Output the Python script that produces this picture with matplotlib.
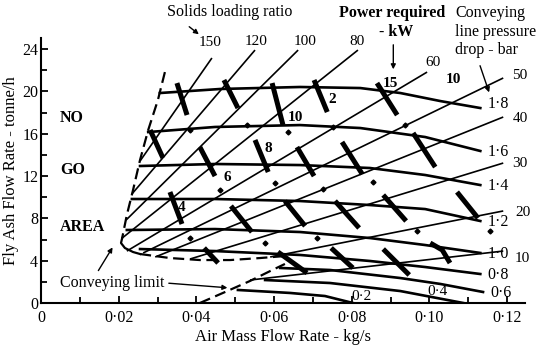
import matplotlib
matplotlib.use("Agg")
import matplotlib.pyplot as plt
from matplotlib.ticker import MultipleLocator, FuncFormatter

plt.rcParams["font.family"] = ["Liberation Serif", "DejaVu Serif"]

# solids loading ratio lines, start and end (air kg/s, fly ash t/h)
ratio_labels = ["150", "120", "100", "80", "60", "50", "40", "30", "20", "10"]
ratio_x0 = [0.0255, 0.0234, 0.0219, 0.0209, 0.0221, 0.0263, 0.0294, 0.0384, 0.0590, 0.0538]
ratio_y0 = [13.42, 10.30, 7.84, 6.14, 4.91, 4.73, 4.35, 4.16, 4.35, 2.17]
ratio_x1 = [0.0440, 0.0551, 0.0662, 0.0816, 0.0994, 0.1190, 0.1190, 0.1190, 0.1190, 0.1190]
ratio_y1 = [23.16, 23.91, 23.91, 23.91, 21.83, 21.27, 17.58, 13.23, 8.70, 4.91]

# conveying line pressure drop curves (bar)
pressure_labels = ["1·8", "1·6", "1·4", "1·2", "1·0", "0·8", "0·6", "0·4", "0·2"]
pressure_x = [
    [0.0306, 0.0461, 0.0667, 0.0822, 0.0925, 0.1028, 0.1131],
    [0.0276, 0.0448, 0.0667, 0.0822, 0.0989, 0.1131],
    [0.0255, 0.0448, 0.0667, 0.0847, 0.0989, 0.1131],
    [0.0234, 0.0448, 0.0667, 0.0847, 0.0989, 0.1131],
    [0.0221, 0.0448, 0.0667, 0.0847, 0.0989, 0.1131],
    [0.0255, 0.0448, 0.0667, 0.0847, 0.0989, 0.1131],
    [0.0616, 0.0744, 0.0925, 0.1028, 0.1138],
    [0.0577, 0.0744, 0.0925, 0.1087],
    [0.0507, 0.0641, 0.0731, 0.0803],
]
pressure_y = [
    [19.85, 20.23, 20.42, 20.32, 19.85, 19.09, 18.43],
    [16.16, 16.64, 16.82, 16.54, 15.69, 14.37],
    [12.95, 13.14, 13.04, 12.76, 12.10, 11.15],
    [9.83, 9.83, 9.64, 9.26, 8.88, 7.75],
    [6.90, 6.99, 6.71, 6.14, 5.48, 4.73],
    [5.10, 4.91, 4.54, 3.97, 3.40, 2.74],
    [3.31, 3.12, 2.36, 1.80, 1.04],
    [2.17, 1.89, 1.13, 0.0],
    [1.23, 0.95, 0.66, 0.0],
]
# label for 0.4 and 0.2 sit above the curve, inside the plot
low_label_x = [0.1022, 0.0824]
low_label_y = [1.13, 0.57]

# power required (kW) contour dashes
power_x = [
    [0.0350, 0.0376], [0.0471, 0.0507], [0.0595, 0.0623], [0.0703, 0.0737],
    [0.0865, 0.0917], [0.0281, 0.0314], [0.0409, 0.0448], [0.0551, 0.0585],
    [0.0659, 0.0703], [0.0775, 0.0827], [0.0958, 0.1015], [0.0332, 0.0363],
    [0.0489, 0.0543], [0.0628, 0.0680], [0.0757, 0.0819], [0.0881, 0.0940],
    [0.1071, 0.1125], [0.0420, 0.0456], [0.0610, 0.0685], [0.0747, 0.0803],
    [0.0881, 0.0948], [0.1002, 0.1033, 0.1053],
]
power_y = [
    [20.79, 17.77], [21.08, 18.43], [20.79, 16.82], [21.08, 18.05],
    [20.79, 17.77], [16.35, 13.71], [14.74, 12.00], [15.41, 12.38],
    [14.74, 12.00], [15.22, 12.19], [16.07, 12.85], [10.49, 7.47],
    [9.17, 6.71], [9.64, 7.28], [9.64, 7.09], [10.21, 7.75],
    [10.49, 8.03], [5.20, 3.78], [4.82, 2.84], [5.20, 3.31],
    [5.10, 2.65], [5.67, 5.01, 3.78],
]
power_labels = ["4", "6", "8", "10", "2", "15", "10"]
power_label_x = [0.0363, 0.0479, 0.0585, 0.0654, 0.0749, 0.0899, 0.1061]
power_label_y = [9.07, 11.91, 14.65, 17.49, 19.19, 20.79, 21.17]

dot_x = [0.0384, 0.0531, 0.0636, 0.0752, 0.0937, 0.0461, 0.0603, 0.0726, 0.0855,
         0.0384, 0.0577, 0.0711, 0.0968, 0.1156]
dot_y = [16.35, 16.82, 16.16, 16.64, 16.82, 10.68, 11.34, 10.78, 11.44,
         6.14, 5.67, 6.14, 6.81, 6.81]

# conveying limit
limit_left_x = [0.0319, 0.0301, 0.0276, 0.0255, 0.0237, 0.0221, 0.0209]
limit_left_y = [21.83, 19.19, 16.35, 13.52, 10.68, 8.32, 6.14]
nose_x = [0.0209, 0.0206, 0.0216, 0.0237, 0.0255]
nose_y = [6.14, 5.67, 5.20, 4.82, 4.63]
limit_bottom_x = [0.0255, 0.0332, 0.0409, 0.0487, 0.0564, 0.0628]
limit_bottom_y = [4.63, 4.25, 4.06, 4.06, 4.25, 4.44]
limit_low_x = [0.0409, 0.0474, 0.0538, 0.0590, 0.0628]
limit_low_y = [0.0, 1.04, 2.08, 3.02, 3.69]

fig = plt.figure(figsize=(5.4, 3.5), dpi=100)
ax = fig.add_axes([0.0759, 0.1343, 0.8963, 0.7571])

dash = (0, (5, 2.5))
ax.plot(limit_left_x, limit_left_y, color="black", lw=1.6, linestyle=dash)
ax.plot(nose_x, nose_y, color="black", lw=1.6)
ax.plot(limit_bottom_x, limit_bottom_y, color="black", lw=1.6, linestyle=dash)
ax.plot(limit_low_x, limit_low_y, color="black", lw=1.6, linestyle=dash)

ratio_offsets = [(-1, 11), (1, 6), (5, 6), (-1, 6), (4, 7), (12, 2), (12, -1), (12, 0), (14, -1), (14, -5)]
for lab, x0, y0, x1, y1, off in zip(ratio_labels, ratio_x0, ratio_y0, ratio_x1, ratio_y1, ratio_offsets):
    ax.plot([x0, x1], [y0, y1], color="black", lw=1.2, solid_capstyle="butt")
    ax.annotate(lab, (x1, y1), xytext=off, textcoords="offset points",
                ha="center", va="center", fontsize=11, annotation_clip=False)

for i, (lab, xs, ys) in enumerate(zip(pressure_labels, pressure_x, pressure_y)):
    ax.plot(xs, ys, color="black", lw=1.9)
    if i < 7:
        dy = 3 if i == 0 else -1
        ax.annotate(lab, (xs[-1], ys[-1]), xytext=(5, dy), textcoords="offset points",
                    ha="left", va="center", fontsize=11.5, annotation_clip=False)
    else:
        ax.text(low_label_x[i - 7], low_label_y[i - 7], lab, ha="center", va="center", fontsize=11)

for xs, ys in zip(power_x, power_y):
    ax.plot(xs, ys, color="black", lw=3.6, solid_capstyle="butt")
ax.plot(dot_x, dot_y, "D", color="black", ms=2.5, ls="none")

for lab, x, y in zip(power_labels, power_label_x, power_label_y):
    ax.text(x, y, lab, ha="center", va="center", fontsize=11, fontweight="bold")

# annotations
ax.text(0.0487, 27.5, "Solids loading ratio", ha="center", va="center", fontsize=11.5)
ax.annotate("", xy=(0.0412, 25.24), xytext=(0.0376, 26.28),
            arrowprops=dict(arrowstyle="-|>", color="black", lw=1, mutation_scale=7),
            annotation_clip=False)
ax.text(0.0904, 27.41, "Power required", ha="center", va="center", fontsize=11.5, fontweight="bold")
ax.text(0.0914, 25.61, "- kW", ha="center", va="center", fontsize=11.5, fontweight="bold")
ax.annotate("", xy=(0.0907, 21.83), xytext=(0.0907, 24.67),
            arrowprops=dict(arrowstyle="-|>", color="black", lw=1, mutation_scale=7),
            annotation_clip=False)
ax.text(0.1066, 27.41, "Conveying", ha="left", va="center", fontsize=11.5)
ax.text(0.1066, 25.61, "line pressure", ha="left", va="center", fontsize=11.5)
ax.text(0.1066, 23.91, "drop - bar", ha="left", va="center", fontsize=11.5)
ax.annotate("", xy=(0.1156, 19.66), xytext=(0.1128, 22.68),
            arrowprops=dict(arrowstyle="-|>", color="black", lw=1, mutation_scale=7),
            annotation_clip=False)

ax.text(0.0049, 17.49, "NO", ha="left", va="center", fontsize=11.5, fontweight="bold")
ax.text(0.0049, 12.57, "GO", ha="left", va="center", fontsize=11.5, fontweight="bold")
ax.text(0.0049, 7.18, "AREA", ha="left", va="center", fontsize=11.5, fontweight="bold")

ax.text(0.0183, 1.89, "Conveying limit", ha="center", va="center", fontsize=11.5)
ax.annotate("", xy=(0.0188, 5.48), xytext=(0.0144, 2.84),
            arrowprops=dict(arrowstyle="-|>", color="black", lw=1, mutation_scale=7))
ax.annotate("", xy=(0.0487, 1.42), xytext=(0.0322, 1.89),
            arrowprops=dict(arrowstyle="-|>", color="black", lw=1, mutation_scale=7))

ax.set_xlim(0, 0.1246)
ax.set_ylim(0, 25.05)
ax.spines["top"].set_visible(False)
ax.spines["right"].set_visible(False)
for s in ("left", "bottom"):
    ax.spines[s].set_linewidth(1.5)

ax.xaxis.set_major_locator(MultipleLocator(0.02))
ax.xaxis.set_minor_locator(MultipleLocator(0.01))
ax.yaxis.set_major_locator(MultipleLocator(4))
ax.yaxis.set_minor_locator(MultipleLocator(2))
ax.xaxis.set_major_formatter(FuncFormatter(lambda v, p: "0" if abs(v) < 1e-9 else f"{v:.2f}".replace(".", "·")))
ax.tick_params(which="both", direction="in", width=1.3, labelsize=11.5)
ax.tick_params(which="major", length=5)
ax.tick_params(which="minor", length=4)
ax.tick_params(axis="x", pad=5)
ax.tick_params(axis="y", pad=2)

ax.set_xlabel("Air Mass Flow Rate - kg/s", fontsize=12, labelpad=2)
ax.set_ylabel("Fly Ash Flow Rate - tonne/h", fontsize=12, labelpad=2)

fig.savefig("out.png", dpi=100)
